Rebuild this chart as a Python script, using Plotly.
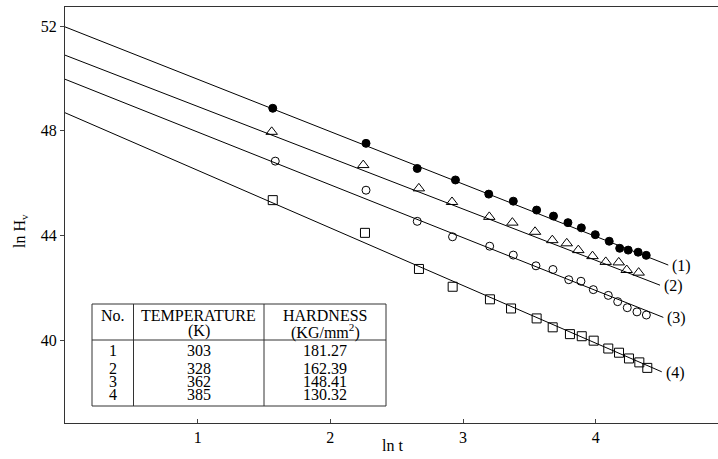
import plotly.graph_objects as go

# ---------------- data ----------------
x1 = [1.566, 2.269, 2.655, 2.943, 3.194, 3.379, 3.555, 3.682, 3.791, 3.892, 3.997, 4.102, 4.181, 4.245, 4.320, 4.381]
y1 = [48.86, 47.52, 46.56, 46.12, 45.58, 45.31, 44.97, 44.74, 44.49, 44.29, 44.03, 43.78, 43.51, 43.44, 43.36, 43.24]

x2 = [1.558, 2.248, 2.667, 2.917, 3.198, 3.372, 3.543, 3.673, 3.782, 3.869, 3.976, 4.076, 4.174, 4.234, 4.324]
y2 = [47.96, 46.69, 45.80, 45.28, 44.71, 44.49, 44.14, 43.82, 43.70, 43.44, 43.21, 42.99, 42.97, 42.68, 42.58]

x3 = [1.585, 2.269, 2.655, 2.921, 3.201, 3.379, 3.550, 3.678, 3.797, 3.889, 3.982, 4.095, 4.166, 4.238, 4.311, 4.382]
y3 = [46.84, 45.73, 44.54, 43.95, 43.59, 43.25, 42.84, 42.70, 42.31, 42.25, 41.93, 41.71, 41.47, 41.24, 41.08, 40.96]

x4 = [1.566, 2.261, 2.668, 2.922, 3.203, 3.362, 3.555, 3.676, 3.806, 3.895, 3.985, 4.095, 4.176, 4.251, 4.329, 4.389]
y4 = [45.35, 44.10, 42.72, 42.04, 41.56, 41.21, 40.83, 40.49, 40.23, 40.15, 39.98, 39.68, 39.52, 39.30, 39.15, 38.94]

# fitted lines: value at ln t = 0, value at the end, end ln t
fit_start = [51.97, 50.89, 49.97, 48.69]
fit_end_y = [42.87, 42.10, 40.87, 38.79]
fit_end_x = [4.547, 4.485, 4.510, 4.498]
curve_labels = ["(1)", "(2)", "(3)", "(4)"]

table_no = ["1", "2", "3", "4"]
table_temp = ["303", "328", "362", "385"]
table_hard = ["181.27", "162.39", "148.41", "130.32"]

x_ticks = [1, 2, 3, 4]
y_ticks = [40, 44, 48, 52]

# ---------------- figure ----------------
W, H = 718, 459
ML, MR, MT, MB = 65, 0, 7, 36
PW, PH = W - ML - MR, H - MT - MB

def px(xp):
    return (xp - ML) / PW

def py(yp):
    return (H - MB - yp) / PH

FONT = "Liberation Serif"
fig = go.Figure()

for xs, ys, sym, size in [
    (x1, y1, "circle", 8),
    (x2, y2, "triangle-up-open", 10),
    (x3, y3, "circle-open", 8),
    (x4, y4, "square-open", 9),
]:
    fig.add_trace(go.Scatter(
        x=xs, y=ys, mode="markers",
        marker=dict(symbol=sym, size=size, color="black",
                    line=dict(color="black", width=1)),
        showlegend=False, hoverinfo="skip"))

annotations = []
for b, e, xe, lab in zip(fit_start, fit_end_y, fit_end_x, curve_labels):
    fig.add_trace(go.Scatter(
        x=[0, xe], y=[b, e], mode="lines",
        line=dict(color="black", width=1),
        showlegend=False, hoverinfo="skip"))
    annotations.append(dict(x=xe, y=e, xref="x", yref="y", text=lab,
                            showarrow=False, xanchor="left", yanchor="middle",
                            xshift=2, yshift=-1,
                            font=dict(family=FONT, size=16, color="black")))

# ---------------- table ----------------
tl, tr, tt, tb = 92, 386, 304, 406
c1, c2 = 133.5, 264
hline = 340
shapes = []
lc = dict(color="#333", width=1)
shapes.append(dict(type="rect", xref="paper", yref="paper",
                   x0=px(tl), x1=px(tr), y0=py(tb), y1=py(tt), line=lc,
                   fillcolor="white", layer="above"))
for cx in (c1, c2):
    shapes.append(dict(type="line", xref="paper", yref="paper",
                       x0=px(cx), x1=px(cx), y0=py(tb), y1=py(tt), line=lc, layer="above"))
shapes.append(dict(type="line", xref="paper", yref="paper",
                   x0=px(tl), x1=px(tr), y0=py(hline), y1=py(hline), line=lc, layer="above"))

col_cx = [(tl + c1) / 2, (c1 + c2) / 2, (c2 + tr) / 2]

def text_at(xc, yc, txt, size=16, angle=0):
    annotations.append(dict(x=px(xc), y=py(yc), xref="paper", yref="paper",
                            text=txt, showarrow=False, xanchor="center",
                            yanchor="middle", textangle=angle,
                            font=dict(family=FONT, size=size, color="black")))

text_at(col_cx[0], 315, "No.")
text_at(col_cx[1], 315, "TEMPERATURE")
text_at(col_cx[1], 331, "(K)")
text_at(col_cx[2], 315, "HARDNESS")
text_at(col_cx[2], 331, "(KG/mm<sup>2</sup>)")
row_y = [350.5, 368.5, 381.5, 394.5]
for ry, a, b, c in zip(row_y, table_no, table_temp, table_hard):
    text_at(col_cx[0], ry, a)
    text_at(col_cx[1], ry, b)
    text_at(col_cx[2], ry, c)

# axis titles
text_at(20, 231, "ln H<sub>v</sub>", 16, -90)
text_at(393, 446, "ln t", 16)

fig.update_layout(
    width=W, height=H, autosize=False,
    margin=dict(l=ML, r=MR, t=MT, b=MB, pad=0),
    paper_bgcolor="white", plot_bgcolor="white",
    font=dict(family=FONT, size=16, color="black"),
    xaxis=dict(range=[0, PW / 132.67], tickvals=x_ticks, ticks="inside",
               ticklen=4, tickcolor="#444", showline=True, mirror=True,
               linecolor="#333", linewidth=1, showgrid=False, zeroline=False,
               tickfont=dict(size=16)),
    yaxis=dict(range=[52.73 - PH / 26.17, 52.73], tickvals=y_ticks,
               ticks="outside", ticklen=4, tickcolor="#444", showline=True,
               linecolor="#333", linewidth=1, showgrid=False, zeroline=False,
               tickfont=dict(size=16)),
    shapes=shapes,
    annotations=annotations,
)

fig.write_html("out.html", config={"displayModeBar": False},
               post_script="document.body.style.margin='0';document.body.style.overflow='hidden';")
